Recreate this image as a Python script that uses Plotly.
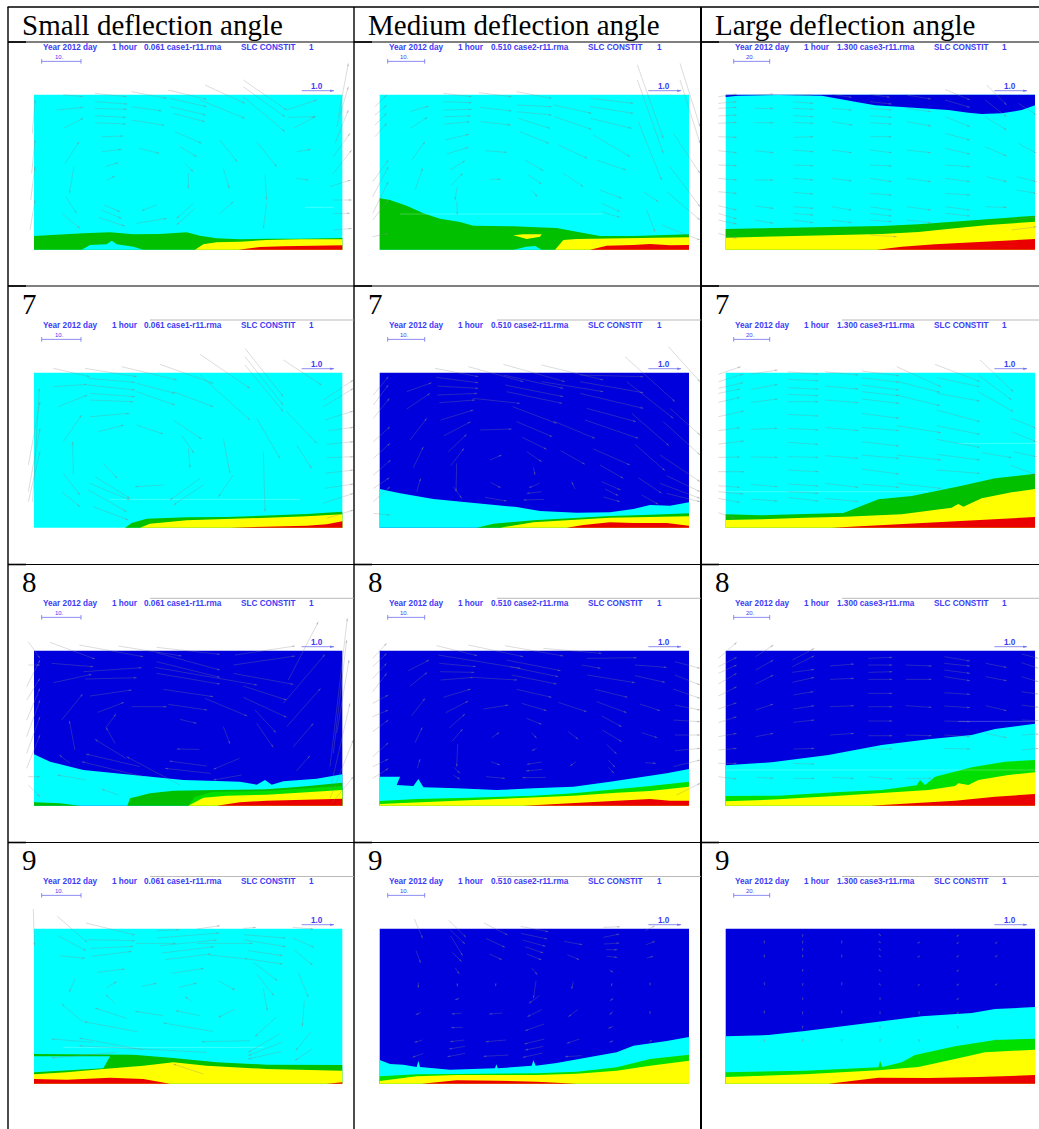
import math
import plotly.graph_objects as go

W_PX, H_PX = 1039, 1129
BLUE, CYAN, GREEN, LIME, YELLOW, RED = "#0000dc", "#00ffff", "#00c000", "#00e000", "#ffff00", "#ea0000"

COLUMN_TITLES = ["Small deflection angle", "Medium deflection angle", "Large deflection angle"]
ROW_LABELS = ["7", "8", "9"]
CASE_LABELS = ["0.061 case1-r11.rma", "0.510 case2-r11.rma", "1.300 case3-r11.rma"]
SCALE_LABELS = ["10.", "10.", "20."]
HEADER_WORDS = ["Year 2012 day", "1 hour", "", "SLC CONSTIT", "1"]

# ---- concentration bands, read as (distance along flume, height) ----
P11_GREEN = [(0,41),(78,46),(148,49),(228,52),(298,46),(378,47),(458,52),(498,42),(548,34),(618,31),(698,33),(798,33),(925,35)]
P11_POCKET = [(143,0),(168,14),(218,16),(233,27),(248,16),(298,9),(328,0)]
P11_YELLOW = [(483,0),(508,16),(548,22),(618,24),(698,29),(798,31),(925,31)]
P11_RED = [(613,0),(678,8),(748,10),(828,11),(925,13)]

P12_GREEN = [(0,154),(31,149),(81,132),(131,109),(181,93),(241,83),(281,72),(341,72),(401,70),(471,67),(531,65),(591,54),(661,41),(761,41),(928,46)]
P12_ISLAND = [(401,43),(431,46),(486,46),(481,39),(441,32),(421,37),(401,43)]
P12_POCKET = [(401,0),(441,9),(466,11),(486,0)]
P12_YELLOW = [(526,0),(551,29),(591,32),(671,33),(761,35),(928,37)]
P12_RED = [(631,0),(681,12),(761,14),(811,17),(871,13),(928,14)]

P13_BLUE = [(0,465),(0,458),(38,462),(158,464),(288,462),(338,454),(388,444),(448,433),(548,426),(668,419),(728,411),(768,407),(828,409),(888,419),(928,433),(928,465),(0,465)]
P13_GREEN = [(0,62),(108,64),(238,66),(338,69),(468,71),(578,76),(688,84),(788,92),(928,102)]
P13_YELLOW = [(0,36),(108,38),(238,41),(338,44),(468,47),(578,53),(688,64),(788,74),(928,84)]
P13_RED = [(453,0),(528,9),(628,16),(758,22),(928,32)]

P21_GREEN = [(273,0),(293,14),(338,27),(458,31),(578,32),(698,36),(818,41),(925,48)]
P21_YELLOW = [(318,0),(348,12),(458,22),(578,26),(698,30),(818,34),(925,40)]
P21_RED = [(588,0),(698,3),(818,6),(878,10),(925,19)]

P22_CYAN = [(0,116),(61,103),(161,86),(241,78),(341,70),(411,62),(481,50),(591,45),(691,46),(761,56),(811,68),(871,66),(928,76)]
P22_GREEN = [(291,0),(341,12),(461,22),(561,28),(691,35),(811,39),(928,43)]
P22_YELLOW = [(361,0),(461,16),(561,22),(691,30),(811,32),(928,34)]
P22_RED = [(561,0),(611,8),(691,16),(761,14),(861,14),(928,6)]

P23_GREEN = [(0,40),(108,37),(238,41),(353,44),(458,85),(558,95),(708,126),(808,148),(928,162)]
P23_YELLOW = [(0,23),(108,25),(238,30),(358,33),(528,40),(678,60),(688,66),(698,71),(713,63),(768,88),(858,106),(928,116)]
P23_RED = [(318,0),(468,8),(608,14),(708,19),(808,25),(928,32)]

P31_CYAN = [(0,154),(48,132),(148,107),(298,91),(448,77),(548,74),(618,72),(668,63),(693,77),(713,63),(748,73),(848,81),(925,94)]
P31_CORNER = [(0,10),(78,7),(138,0)]
P31_GREEN = [(280,0),(288,22),(348,37),(418,45),(548,47),(698,49),(798,57),(925,69)]
P31_LIME = [(463,0),(483,27),(538,42),(698,44),(925,59)]
P31_YELLOW = [(463,0),(508,24),(578,30),(698,33),(818,40),(925,47)]
P31_RED = [(548,0),(618,10),(698,15),(798,17),(925,21)]

P32_CYAN = [(0,87),(61,87),(51,62),(101,59),(116,80),(131,55),(231,52),(351,47),(461,52),(581,57),(691,72),(761,82),(861,97),(928,110)]
P32_GREEN = [(0,14),(111,20),(241,23),(361,27),(461,30),(581,37),(711,49),(811,59),(928,72)]
P32_YELLOW = [(0,5),(111,10),(241,15),(361,21),(461,25),(581,30),(711,39),(811,44),(928,57)]
P32_RED = [(431,0),(561,7),(711,15),(811,20),(871,15),(928,15)]

P33_CYAN = [(0,121),(138,130),(308,152),(468,182),(608,199),(738,212),(808,230),(928,246)]
P33_GREEN = [(0,29),(158,30),(328,40),(468,47),(573,61),(583,77),(598,62),(628,87),(738,115),(838,132),(928,137)]
P33_YELLOW = [(0,13),(158,19),(328,29),(468,37),(608,47),(688,59),(698,67),(728,62),(758,77),(848,92),(928,100)]
P33_RED = [(433,0),(558,7),(688,15),(808,27),(928,35)]

P41_GREEN = [(0,89),(228,86),(298,87),(418,77),(548,64),(698,57),(925,56)]
P41_POCKET = [(0,82),(228,82),(208,46),(98,39),(0,34),(0,82)]
P41_YELLOW = [(0,28),(98,34),(208,44),(328,54),(418,64),(518,54),(698,44),(925,39)]
P41_RED = [(0,14),(98,12),(228,18),(328,14),(408,0)]
P41_RED_END = [(878,0),(925,4)]

P42_CYAN = [(0,71),(31,59),(71,57),(111,50),(116,69),(121,50),(211,42),(346,46),(350,58),(354,46),(456,54),(461,70),(468,54),(531,62),(631,80),(711,94),(761,114),(861,128),(928,140)]
P42_GREEN = [(0,22),(111,28),(231,29),(351,31),(471,31),(591,36),(711,49),(811,74),(928,87)]
P42_YELLOW = [(0,8),(111,22),(231,26),(351,26),(471,26),(591,30),(711,39),(811,54),(928,69)]
P42_RED = [(126,0),(231,10),(351,9),(471,6),(591,0)]

P43_CYAN = [(0,142),(128,146),(238,158),(458,186),(588,202),(738,212),(808,224),(928,230)]
P43_GREEN = [(0,34),(238,39),(458,49),(463,69),(470,50),(528,64),(568,86),(688,112),(808,131),(928,135)]
P43_YELLOW = [(0,20),(238,28),(458,40),(578,50),(688,74),(778,94),(928,102)]
P43_RED = [(308,0),(458,18),(608,17),(758,20),(928,26)]

# ---- velocity vectors, read from each frame as (tail x, tail y, head x, head y), y measured downward ----
V11 = [(190,284,250,290),(285,280,380,290),(285,305,382,312),(285,325,380,328),(285,347,378,352),(285,368,378,372),(395,275,500,295),(395,320,485,333),(395,360,493,376),(505,270,620,298),(510,295,620,320),(510,320,618,345),(520,340,615,365),(525,395,605,430),(615,255,735,310),(600,300,735,355),(660,420,712,485),(730,240,860,330),(730,260,855,350),(730,290,855,395),(770,425,830,500),(860,330,950,300),(865,352,948,350),(880,385,945,350),(890,455,932,448),(890,535,925,540),(190,385,250,355),(170,330,250,322),(305,410,370,408),(305,455,365,448),(418,445,478,460),(315,500,355,488),(320,540,345,528),(540,440,590,470),(555,490,580,515),(565,520,565,565),(195,490,238,425),(222,500,208,580),(197,590,230,640),(185,640,240,685),(312,615,360,635),(305,630,365,655),(295,652,375,678),(470,615,425,632),(410,670,500,655),(580,610,530,655),(585,625,530,675),(670,505,688,565),(660,640,700,605),(795,525,800,600),(800,610,790,685),(990,560,1052,540),(1000,520,1055,450),(1000,470,1050,400),(1005,430,1045,330),(1010,380,1045,260),(1015,350,1045,190),(1000,600,1055,600),(1000,640,1050,640),(1000,690,1055,685),(90,690,105,600),(92,600,105,500),(95,520,105,420),(97,400,105,300)]
V12 = [(180,335,235,318),(180,385,232,352),(185,480,225,425),(195,570,218,505),(280,305,365,308),(280,330,365,328),(280,350,362,348),(282,372,360,365),(285,420,357,403),(290,462,355,442),(300,510,345,482),(305,555,338,520),(322,560,315,600),(320,605,322,645),(280,280,365,290),(390,322,485,333),(392,365,482,375),(405,452,470,457),(420,538,452,538),(387,278,485,290),(500,275,605,295),(500,315,605,320),(500,335,605,345),(505,355,600,385),(510,395,597,430),(525,480,580,512),(535,525,575,552),(545,570,562,590),(610,315,725,340),(613,350,725,388),(625,435,712,475),(640,520,700,560),(722,295,850,310),(720,320,850,340),(722,355,845,385),(730,405,840,470),(740,480,828,510),(750,570,815,595),(755,610,810,635),(755,635,810,652),(862,195,940,415),(862,240,940,460),(865,365,935,540),(880,575,925,605),(890,630,915,695),(990,190,1050,380),(990,240,1050,430),(970,400,1050,520),(960,500,1050,620),(950,575,1050,660),(935,675,1050,720),(68,545,115,480),(68,590,115,500),(68,640,115,545),(68,660,115,600),(68,710,115,700),(75,320,110,285),(75,345,110,315),(75,375,110,340),(75,410,110,370)]
V13 = [(70,290,125,282),(70,310,125,305),(70,325,125,322),(70,348,125,345),(70,370,125,367),(70,410,125,412),(70,452,125,458),(70,495,125,497),(70,535,125,540),(70,575,125,580),(70,617,125,630),(70,640,125,657),(70,660,125,672),(70,700,125,715),(180,285,235,282),(180,325,235,325),(180,368,235,368),(180,452,235,458),(180,540,235,540),(180,618,235,625),(180,660,235,670),(295,285,350,285),(295,305,355,310),(295,325,355,328),(295,347,355,350),(295,367,355,370),(295,412,355,410),(295,450,355,455),(295,495,355,497),(295,535,355,540),(295,577,355,582),(295,620,355,625),(295,640,355,645),(295,660,355,668),(410,283,470,292),(410,325,470,330),(410,365,472,375),(410,450,470,458),(410,535,470,543),(410,620,470,630),(410,660,470,668),(525,283,585,292),(525,305,590,312),(525,325,590,330),(525,347,590,352),(525,368,590,372),(525,410,590,410),(525,450,590,458),(525,495,590,498),(525,535,590,545),(525,580,590,585),(525,620,590,630),(525,640,590,648),(525,660,590,665),(525,705,605,710),(635,285,708,297),(635,325,708,335),(635,365,708,378),(635,450,708,458),(635,535,708,545),(635,620,708,630),(635,660,708,668),(750,268,825,300),(750,300,825,322),(750,350,825,380),(750,400,825,420),(750,445,825,462),(750,495,825,500),(750,535,825,545),(750,580,825,585),(750,620,825,630),(750,640,825,648),(875,255,935,315),(870,300,935,350),(870,350,935,390),(870,440,935,468),(875,530,935,545),(870,620,935,622),(970,310,1025,345),(970,430,1025,460),(965,530,1025,545),(965,570,1025,580),(950,660,1025,650),(950,690,1025,680)]
V21 = [(160,250,270,275),(255,250,410,275),(365,245,530,285),(480,238,640,295),(600,208,750,310),(735,190,850,335),(735,215,850,360),(735,240,850,380),(850,225,965,300),(160,305,262,298),(175,365,262,330),(265,280,405,292),(265,300,405,315),(270,325,405,335),(270,345,400,350),(270,395,388,385),(295,440,372,420),(410,295,525,325),(410,320,525,360),(520,320,640,365),(410,420,490,447),(520,405,605,462),(545,450,582,505),(565,490,570,548),(670,460,690,565),(600,270,750,405),(860,380,950,475),(890,480,935,550),(770,400,840,520),(790,500,795,680),(310,535,352,580),(285,575,390,640),(270,595,390,645),(265,615,380,680),(185,620,240,665),(280,665,385,705),(190,565,240,630),(220,570,218,470),(190,470,245,390),(490,600,405,605),(610,600,520,660),(600,580,510,645),(700,570,655,635),(970,345,1060,285),(970,365,1060,310),(975,405,1060,378),(985,437,1060,427),(980,478,1060,470),(980,518,1060,515),(975,565,1060,555),(975,610,1060,597),(970,655,1060,625),(980,700,1060,675),(85,620,120,430),(85,650,120,500),(85,540,120,350),(98,650,118,310)]
V22 = [(170,320,245,293),(170,372,240,325),(180,465,230,400),(190,548,220,485),(200,620,212,580),(255,250,385,275),(258,277,385,293),(262,303,385,310),(262,330,382,325),(268,353,375,345),(272,405,370,375),(282,452,362,410),(295,500,350,448),(302,542,342,490),(320,535,318,620),(310,605,335,640),(355,245,520,290),(370,340,510,355),(390,435,485,432),(420,525,455,510),(460,238,645,290),(460,270,640,310),(465,300,640,335),(470,320,637,355),(488,365,620,415),(500,410,607,455),(517,457,590,493),(530,500,575,530),(550,547,555,570),(575,240,760,285),(575,290,760,320),(610,408,735,460),(632,497,705,538),(690,270,880,275),(690,290,880,323),(690,325,880,370),(710,370,858,410),(705,405,865,460),(730,492,840,540),(750,540,820,580),(755,590,812,615),(765,612,805,632),(760,636,810,650),(825,215,975,350),(830,290,970,400),(845,385,957,482),(855,478,945,557),(865,578,935,625),(875,630,925,658),(955,185,1050,290),(960,370,1050,450),(940,410,1050,510),(930,510,1050,590),(950,572,1050,620),(930,595,1050,640),(950,625,1050,650),(70,330,115,275),(70,360,115,300),(70,400,118,340),(70,470,120,425),(70,520,120,475),(70,570,122,525),(70,610,118,578),(70,650,120,605),(70,685,120,690),(422,592,452,608),(568,595,537,608),(575,620,530,625),(582,643,520,645),(405,637,470,648),(675,612,665,590)]
V23 = [(70,268,137,245),(70,290,145,267),(70,310,145,293),(70,325,135,312),(70,352,135,337),(70,395,147,378),(70,437,135,428),(70,477,147,468),(70,517,135,516),(70,560,147,560),(70,602,135,607),(70,620,145,627),(70,640,135,652),(70,683,120,700),(168,267,248,255),(168,313,248,298),(168,352,248,342),(168,433,248,430),(168,516,248,517),(168,598,248,605),(168,642,248,648),(278,260,370,268),(278,283,370,287),(278,308,370,312),(278,328,370,332),(278,350,370,350),(278,388,370,393),(278,430,370,435),(278,472,370,478),(278,515,370,517),(278,555,370,560),(278,597,370,603),(278,620,370,625),(278,637,370,648),(390,260,490,270),(390,303,490,312),(390,345,490,353),(390,427,490,437),(390,512,490,520),(390,595,490,607),(390,640,490,650),(500,258,612,272),(500,278,612,292),(500,300,612,315),(500,320,612,332),(500,342,612,355),(500,385,612,400),(500,427,612,437),(500,470,612,483),(500,510,612,520),(500,552,612,567),(500,597,612,607),(605,245,738,305),(610,290,735,322),(605,330,735,362),(605,422,738,443),(605,510,738,525),(605,595,738,610),(720,238,855,290),(725,278,855,305),(725,325,855,348),(725,375,855,410),(725,422,855,448),(725,463,855,487),(725,508,855,525),(725,555,855,565),(855,225,955,320),(850,270,950,345),(850,320,955,380),(950,400,1025,430),(950,440,1025,470),(955,500,1025,515),(945,540,1025,570),(860,503,950,518)]
V31 = [(150,247,285,297),(238,255,430,290),(355,258,545,288),(470,262,660,283),(705,285,885,258),(155,310,280,320),(250,335,425,323),(160,368,275,343),(255,357,410,353),(270,408,395,390),(293,457,372,427),(395,440,500,440),(505,433,622,450),(490,388,640,410),(470,305,660,352),(470,278,660,330),(470,340,660,372),(465,322,772,375),(700,315,885,288),(700,340,880,373),(730,378,860,420),(730,412,860,472),(615,415,742,468),(540,478,590,490),(670,500,690,552),(765,450,828,518),(770,490,820,562),(860,500,962,385),(850,430,975,283),(865,360,955,185),(880,560,940,490),(890,632,930,587),(598,568,530,567),(718,595,640,628),(620,618,508,603),(632,640,495,625),(725,645,640,660),(378,595,285,538),(345,550,318,502),(318,502,348,462),(225,570,208,482),(185,480,248,402),(210,610,178,585),(420,620,258,582),(430,650,245,605),(540,675,380,590),(355,705,305,687),(260,660,172,645),(85,650,120,650),(85,675,120,710),(85,315,120,315),(85,245,120,295),(80,380,120,300),(80,420,120,355),(80,480,120,385),(80,530,120,420),(80,580,120,470),(80,625,120,525),(990,620,1042,175),(1000,580,1040,240),(1010,520,1047,300),(990,690,1050,430),(990,715,1060,540),(995,730,1060,650)]
V32 = [(175,332,237,300),(180,378,232,337),(185,467,225,415),(195,548,217,502),(202,625,210,597),(260,257,382,287),(265,285,512,325),(268,310,378,320),(270,335,373,337),(272,360,370,352),(355,255,520,290),(370,352,502,360),(280,412,362,387),(287,458,355,423),(298,503,345,462),(305,545,338,507),(323,552,320,620),(312,622,330,640),(310,645,330,658),(400,447,475,435),(425,533,448,517),(408,650,465,655),(423,605,450,615),(465,257,640,288),(470,300,632,332),(480,320,625,350),(485,345,620,372),(500,388,605,412),(515,430,590,452),(530,475,575,493),(545,518,560,535),(560,565,545,572),(575,606,530,613),(577,628,528,633),(587,652,517,653),(580,265,755,280),(625,427,710,455),(655,515,685,538),(678,605,660,618),(710,295,860,293),(695,315,752,325),(712,345,855,368),(735,388,833,412),(740,425,830,458),(755,468,815,500),(757,510,815,545),(770,553,800,582),(775,600,795,622),(775,622,792,640),(855,315,950,322),(855,347,945,367),(870,432,930,452),(875,518,922,533),(885,608,918,610),(975,305,1050,325),(975,345,1050,375),(970,387,1050,415),(975,435,1050,450),(970,480,1050,485),(975,525,1050,525),(975,572,1050,565),(970,620,1050,600),(980,705,1050,670),(68,295,110,250),(68,320,110,280),(68,355,110,310),(68,395,110,340),(68,430,115,405),(68,470,115,450),(68,515,115,480),(68,590,115,548),(68,620,115,597),(68,655,115,625)]
V33 = [(70,295,125,247),(70,320,125,292),(70,340,125,315),(70,372,125,340),(70,408,125,380),(70,447,125,428),(70,488,125,470),(70,530,125,520),(70,570,125,565),(182,290,235,255),(182,330,235,300),(182,372,235,345),(182,450,235,432),(182,530,235,520),(292,300,358,265),(292,320,358,287),(292,337,358,328),(292,367,358,352),(295,405,355,395),(295,447,358,437),(295,487,358,480),(295,567,358,565),(405,318,477,312),(405,358,477,355),(405,440,477,437),(405,525,477,520),(520,295,592,292),(520,315,592,315),(520,337,592,335),(520,358,592,358),(520,400,592,400),(520,440,592,440),(520,483,592,483),(520,527,592,527),(520,567,592,567),(632,315,710,318),(632,358,710,358),(632,437,710,442),(632,525,710,527),(748,290,825,303),(748,310,825,318),(748,330,825,340),(748,350,825,362),(748,398,825,403),(748,438,825,443),(748,483,825,485),(748,525,825,530),(748,565,825,567),(872,310,935,322),(872,350,935,362),(872,437,935,452),(872,520,935,533),(980,282,1030,295),(980,308,1030,325),(980,350,1030,365),(980,395,1030,402),(980,435,1030,442),(980,480,1030,482),(980,525,1030,522),(980,570,1030,565),(70,610,125,610),(70,650,125,657),(185,652,235,655),(295,610,358,612),(295,655,358,655),(410,652,477,655),(520,650,592,657),(632,655,710,655)]
V41 = [(172,232,262,310),(173,290,258,335),(180,350,255,358),(258,252,405,288),(262,302,405,305),(270,328,400,322),(275,352,395,337),(292,400,375,390),(318,447,350,428),(345,493,318,467),(225,418,208,460),(380,538,285,507),(490,530,405,517),(600,530,527,515),(412,578,252,548),(638,577,490,552),(248,548,185,495),(430,633,238,597),(620,640,238,620),(470,275,538,272),(470,297,658,282),(480,320,650,303),(485,342,642,323),(495,362,632,345),(408,313,528,313),(515,403,612,388),(425,442,470,433),(538,445,590,432),(575,488,555,472),(655,425,705,453),(705,510,655,535),(590,270,660,260),(590,313,758,313),(628,348,745,360),(730,268,768,265),(730,287,857,297),(730,302,857,323),(745,335,848,350),(745,360,848,375),(760,370,832,425),(770,405,822,470),(790,447,802,515),(828,535,765,593),(838,585,745,640),(845,610,745,650),(845,637,745,660),(750,605,605,608),(895,400,925,475),(913,485,907,562),(932,580,887,635),(935,630,885,665),(878,297,942,325),(882,332,938,378),(878,265,940,270),(610,705,520,675),(280,610,155,600),(350,640,155,657),(100,210,103,320)]
V42 = [(193,240,218,298),(198,335,212,372),(205,430,205,447),(295,243,348,295),(300,272,345,315),(303,292,338,350),(307,340,335,368),(316,387,328,405),(322,433,322,443),(402,252,473,288),(408,298,465,325),(418,345,456,362),(437,435,437,442),(512,262,595,278),(513,283,592,300),(518,303,587,322),(525,323,580,342),(530,345,575,363),(545,387,562,407),(558,425,550,478),(568,470,537,493),(575,512,532,533),(582,555,525,575),(583,600,523,615),(580,622,525,633),(578,642,518,655),(642,307,697,317),(652,347,688,362),(670,427,665,450),(683,512,655,533),(688,600,650,613),(760,295,808,285),(762,315,808,312),(768,332,802,332),(770,352,802,355),(778,393,790,400),(785,435,785,442),(790,478,780,485),(790,517,778,527),(790,562,775,568),(790,605,778,610),(885,275,915,260),(888,317,915,307),(890,357,910,352),(900,435,900,440),(900,520,900,525),(905,603,898,610),(695,650,645,653),(475,648,400,652),(345,643,292,653),(345,622,297,630),(343,603,300,608),(468,603,407,608),(338,565,303,566),(335,522,305,525),(457,522,417,525),(213,520,197,527),(217,603,193,610),(220,643,187,655),(328,478,315,482),(760,265,810,263)]
V43 = [(208,310,208,314),(208,352,208,356),(208,435,208,439),(208,520,208,524),(208,605,208,609),(323,290,323,294),(323,310,323,314),(323,332,323,336),(323,352,323,356),(323,395,323,399),(323,437,323,441),(323,480,323,484),(323,522,323,526),(323,565,323,569),(323,605,323,609),(440,310,440,314),(440,352,440,356),(440,435,440,439),(440,520,440,524),(440,605,440,609),(555,288,558,291),(555,310,558,312),(555,332,558,335),(555,352,558,355),(555,395,558,398),(555,437,558,440),(555,480,555,484),(555,522,555,526),(555,565,555,569),(555,605,555,609),(672,310,675,308),(672,352,675,350),(672,437,675,434),(672,522,672,526),(672,605,672,609),(788,290,792,287),(788,312,792,309),(788,352,792,349),(788,395,792,392),(788,437,792,434),(788,480,792,477),(788,522,792,519),(788,565,788,569),(903,312,907,308),(903,352,907,348),(903,437,907,433),(903,605,903,609)]

# ---- pale streak lines visible in some frames (x from, x to, y, measured as the vectors are) ----
S11 = [(915,1000,622)]
S12 = [(150,760,642)]
S21 = [(330,900,643)]
S23 = [(790,1020,475),(92,700,620)]
S33 = [(790,1020,484),(92,1020,630)]
S41 = [(190,790,625)]

# frame reading origins: crop x of the frame's left side, crop y of its floor
READ_ORIGINS = [
    [(102, 749), (89, 749), (92, 749)],
    [(102, 728), (89, 728), (92, 728)],
    [(102, 737), (89, 737), (92, 737)],
    [(102, 734), (89, 734), (92, 734)],
]

F, T = "tozeroy", "toself"
PANELS = [
    [dict(bg=CYAN, layers=[(GREEN, F, P11_GREEN), (CYAN, F, P11_POCKET), (YELLOW, F, P11_YELLOW), (RED, F, P11_RED)], vec=V11, streak=S11),
     dict(bg=CYAN, layers=[(GREEN, F, P12_GREEN), (YELLOW, T, P12_ISLAND), (CYAN, F, P12_POCKET), (YELLOW, F, P12_YELLOW), (RED, F, P12_RED)], vec=V12, streak=S12),
     dict(bg=CYAN, layers=[(BLUE, T, P13_BLUE), (GREEN, F, P13_GREEN), (YELLOW, F, P13_YELLOW), (RED, F, P13_RED)], vec=V13, streak=[])],
    [dict(bg=CYAN, layers=[(GREEN, F, P21_GREEN), (YELLOW, F, P21_YELLOW), (RED, F, P21_RED)], vec=V21, streak=S21),
     dict(bg=BLUE, layers=[(CYAN, F, P22_CYAN), (GREEN, F, P22_GREEN), (YELLOW, F, P22_YELLOW), (RED, F, P22_RED)], vec=V22, streak=[]),
     dict(bg=CYAN, layers=[(GREEN, F, P23_GREEN), (YELLOW, F, P23_YELLOW), (RED, F, P23_RED)], vec=V23, streak=S23)],
    [dict(bg=BLUE, layers=[(CYAN, F, P31_CYAN), (GREEN, F, P31_CORNER), (GREEN, F, P31_GREEN), (LIME, F, P31_LIME), (YELLOW, F, P31_YELLOW), (RED, F, P31_RED)], vec=V31, streak=[]),
     dict(bg=BLUE, layers=[(CYAN, F, P32_CYAN), (LIME, F, P32_GREEN), (YELLOW, F, P32_YELLOW), (RED, F, P32_RED)], vec=V32, streak=[]),
     dict(bg=BLUE, layers=[(CYAN, F, P33_CYAN), (LIME, F, P33_GREEN), (YELLOW, F, P33_YELLOW), (RED, F, P33_RED)], vec=V33, streak=S33)],
    [dict(bg=CYAN, layers=[(GREEN, F, P41_GREEN), (CYAN, T, P41_POCKET), (YELLOW, F, P41_YELLOW), (RED, F, P41_RED), (RED, F, P41_RED_END)], vec=V41, streak=S41),
     dict(bg=BLUE, layers=[(CYAN, F, P42_CYAN), (LIME, F, P42_GREEN), (YELLOW, F, P42_YELLOW), (RED, F, P42_RED)], vec=V42, streak=[]),
     dict(bg=BLUE, layers=[(CYAN, F, P43_CYAN), (LIME, F, P43_GREEN), (YELLOW, F, P43_YELLOW), (RED, F, P43_RED)], vec=V43, streak=[])],
]

# ---- layout (pixels on the page) ----
FRAME_W = [925, 928, 928]
FRAME_H = 465
CELL_X = [(9, 354), (355, 700), (702, 1039)]
CELL_Y = [(43, 285), (287, 563), (565, 841), (843, 1129)]
FRAME_LEFT = [34, 379.7, 725.7]
FRAME_FLOOR = [249.7, 527.7, 805.7, 1083.7]
HEAD_X = [[26, 233, 331, 621, 825], [28, 234, 334, 624, 831], [28, 235, 335, 624, 830]]
BAR_X = [(23, 141), (24, 135), (24, 132)]
BAR_LABEL_X = [76, 74, 73]
UNIT_X = [(803, 900), (806, 904), (806, 904)]
UNIT_LABEL_X = [850, 852, 853]
HEAD_BLUE = "#3c3cf6"
BAR_BLUE = "#7070f0"
ARROW_GREY = "rgba(135,135,135,0.42)"
SANS = "Liberation Sans"
SERIF = "Liberation Serif"

fig = go.Figure()
ann, shapes = [], []
layout_axes = {}


def px(x):
    return x / W_PX


def py(y):
    return 1 - y / H_PX


n = 0
for r, row in enumerate(PANELS):
    for c, p in enumerate(row):
        n += 1
        xa, ya = f"x{n}", f"y{n}"
        xl, yl = f"xaxis{n}", f"yaxis{n}"
        L, B = FRAME_LEFT[c], FRAME_FLOOR[r]
        (cx0, cx1), (cy0, cy1) = CELL_X[c], CELL_Y[r]
        layout_axes[xl] = dict(domain=[px(cx0), px(cx1)], range=[(cx0 - L) * 3, (cx1 - L) * 3],
                               visible=False, fixedrange=True, anchor=ya)
        layout_axes[yl] = dict(domain=[py(cy1), py(cy0)], range=[(B - cy1) * 3, (B - cy0) * 3],
                               visible=False, fixedrange=True, anchor=xa)
        w = FRAME_W[c]
        fig.add_trace(go.Scatter(x=[0, w, w, 0, 0], y=[0, 0, FRAME_H, FRAME_H, 0], mode="lines", fill="toself",
                                 fillcolor=p["bg"], line=dict(width=0), xaxis=xa, yaxis=ya, hoverinfo="skip"))
        for color, fill, pts in p["layers"]:
            fig.add_trace(go.Scatter(x=[q[0] for q in pts], y=[q[1] for q in pts], mode="lines", fill=fill,
                                     fillcolor=color, line=dict(width=0), xaxis=xa, yaxis=ya, hoverinfo="skip"))
        ox, oy = READ_ORIGINS[r][c]
        if p["streak"]:
            sx, sy = [], []
            for a, b, yy in p["streak"]:
                sx += [a - ox, b - ox, None]
                sy += [oy - yy, oy - yy, None]
            fig.add_trace(go.Scatter(x=sx, y=sy, mode="lines", line=dict(color="rgba(255,255,255,0.35)", width=0.7),
                                     xaxis=xa, yaxis=ya, hoverinfo="skip"))
        lx, ly, hx, hy, ang = [], [], [], [], []
        for x0, y0, x1, y1 in p["vec"]:
            lx += [x0 - ox, x1 - ox, None]
            ly += [oy - y0, oy - y1, None]
            hx.append(x1 - ox)
            hy.append(oy - y1)
            ang.append(math.degrees(math.atan2(x1 - x0, -(y1 - y0))))
        fig.add_trace(go.Scatter(x=lx, y=ly, mode="lines", line=dict(color=ARROW_GREY, width=0.7),
                                 xaxis=xa, yaxis=ya, hoverinfo="skip"))
        fig.add_trace(go.Scatter(x=hx, y=hy, mode="markers",
                                 marker=dict(symbol="arrow", size=3, angle=ang, color=ARROW_GREY, line=dict(width=0)),
                                 xaxis=xa, yaxis=ya, hoverinfo="skip"))
        # header text
        words = list(HEADER_WORDS)
        words[2] = CASE_LABELS[c]
        for word, wx in zip(words, HEAD_X[c]):
            ann.append(dict(x=wx, y=FRAME_H + 143, xref=xa, yref=ya, text=f"<b>{word}</b>", showarrow=False, xanchor="left",
                            yanchor="middle", xshift=-2, font=dict(family=SANS, size=8.2, color=HEAD_BLUE)))
        # length scale bar
        b0, b1 = BAR_X[c]
        barx = [b0, b1, None, b0, b0, None, b1, b1]
        bary = [FRAME_H + 100] * 2 + [None] + [FRAME_H + 93, FRAME_H + 107] + [None] + [FRAME_H + 93, FRAME_H + 107]
        fig.add_trace(go.Scatter(x=barx, y=bary, mode="lines", line=dict(color=BAR_BLUE, width=0.8),
                                 xaxis=xa, yaxis=ya, hoverinfo="skip"))
        ann.append(dict(x=BAR_LABEL_X[c], y=FRAME_H + 113, xref=xa, yref=ya, text=SCALE_LABELS[c], showarrow=False,
                        xanchor="center", yanchor="middle", font=dict(family=SANS, size=6, color=HEAD_BLUE)))
        # reference vector
        u0, u1 = UNIT_X[c]
        fig.add_trace(go.Scatter(x=[u0, u1], y=[FRAME_H + 12, FRAME_H + 12], mode="lines+markers",
                                 line=dict(color=BAR_BLUE, width=0.8),
                                 marker=dict(symbol="arrow", size=4, angle=[0, 90], color=[BAR_BLUE, BAR_BLUE],
                                             opacity=[0, 1], line=dict(width=0)),
                                 xaxis=xa, yaxis=ya, hoverinfo="skip"))
        ann.append(dict(x=UNIT_LABEL_X[c], y=FRAME_H + 26, xref=xa, yref=ya, text="<b>1.0</b>", showarrow=False,
                        xanchor="center", yanchor="middle", font=dict(family=SANS, size=8.2, color=HEAD_BLUE)))

# ---- the table round the frames ----
def hline(x0, x1, y, width, color="black"):
    shapes.append(dict(type="line", xref="paper", yref="paper", x0=px(x0), x1=px(x1), y0=py(y), y1=py(y),
                       line=dict(color=color, width=width), layer="above"))


def vline(x, y0, y1, width):
    shapes.append(dict(type="line", xref="paper", yref="paper", x0=px(x), x1=px(x), y0=py(y0), y1=py(y1),
                       line=dict(color="black", width=width), layer="above"))


hline(7.5, 1039, 7, 1.5)
for y in [42, 286, 564.5, 842.5]:
    hline(8, 1039, y, 1)
    for x in [8, 354, 701]:
        hline(x, x + 18, y, 1.6)
vline(8, 7, 1129, 1.4)
vline(354, 7, 1129, 1.4)
vline(701, 7, 1129, 2)
for y in [320, 598.3, 876.5]:
    hline(150, 354, y, 0.8, "#a8a8a8")
    hline(497, 701, y, 0.8, "#a8a8a8")
    hline(842, 1039, y, 0.8, "#a8a8a8")

TITLE_X = [22, 368, 715]
for tx, title in zip(TITLE_X, COLUMN_TITLES):
    ann.append(dict(x=px(tx), y=py(25), xref="paper", yref="paper", text=title, showarrow=False, xanchor="left",
                    yanchor="middle", xshift=-2, font=dict(family=SERIF, size=29, color="black")))
for ry, label in zip([304, 582, 860], ROW_LABELS):
    for tx in TITLE_X:
        ann.append(dict(x=px(tx), y=py(ry), xref="paper", yref="paper", text=label, showarrow=False, xanchor="left",
                        yanchor="middle", xshift=-2, font=dict(family=SERIF, size=29, color="black")))

fig.update_layout(width=W_PX, height=H_PX, margin=dict(l=0, r=0, t=0, b=0), showlegend=False,
                  paper_bgcolor="white", plot_bgcolor="rgba(0,0,0,0)", annotations=ann, shapes=shapes, **layout_axes)
fig.write_html("out.html", config=dict(displayModeBar=False),
               post_script="document.body.style.margin='0';document.body.style.overflow='hidden';")
